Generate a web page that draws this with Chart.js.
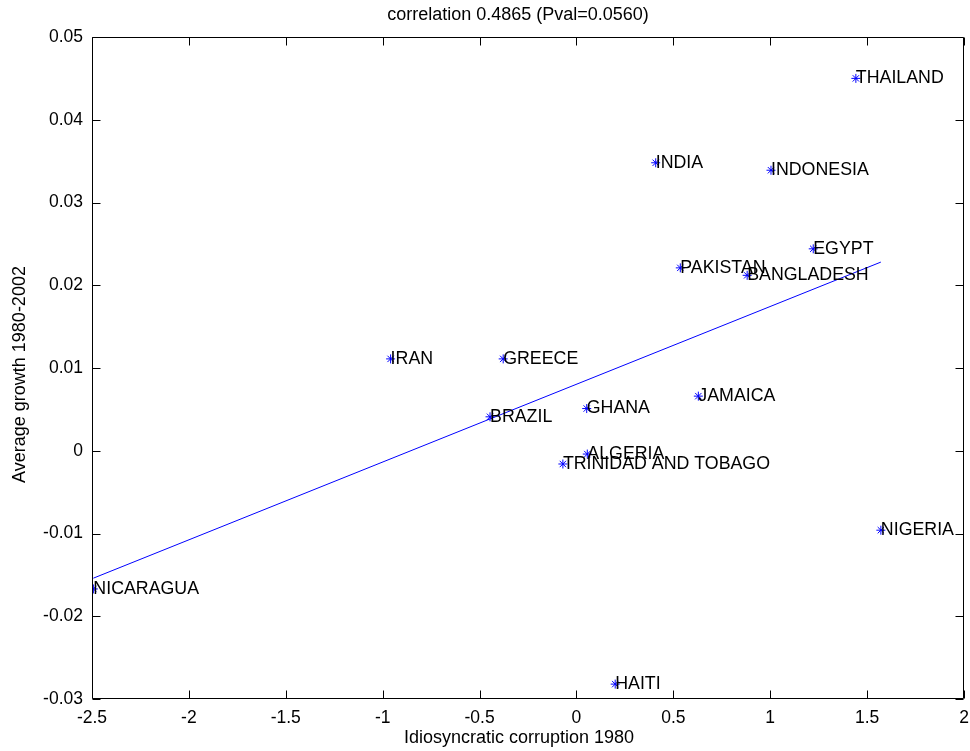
<!DOCTYPE html>
<html>
<head>
<meta charset="utf-8">
<script src="https://cdn.jsdelivr.net/npm/chart.js@4/dist/chart.umd.min.js"></script>
<style>
html,body{margin:0;padding:0;background:#fff;}
#wrap{width:970px;height:751px;position:relative;}
</style>
</head>
<body>
<div id="wrap"><canvas id="c" width="970" height="751"></canvas></div>
<script>
// ---- data ----
const countries = ['THAILAND','INDIA','INDONESIA','EGYPT','PAKISTAN','BANGLADESH','GREECE','IRAN','BRAZIL','GHANA','JAMAICA','ALGERIA','TRINIDAD AND TOBAGO','NIGERIA','HAITI','NICARAGUA'];
const corruption1980 = [1.442,0.409,1.004,1.222,0.536,0.881,-0.378,-0.959,-0.446,0.053,0.629,0.056,-0.070,1.571,0.200,-2.493];
const growth = [0.0450,0.0348,0.0339,0.0244,0.0221,0.0212,0.0111,0.0111,0.0041,0.0051,0.0066,-0.0004,-0.0016,-0.0096,-0.0282,-0.0167];
const fitX = [-2.493, 1.571];
const fitY = [-0.0154, 0.0228];
const xTickLabels = ['-2.5','-2','-1.5','-1','-0.5','0','0.5','1','1.5','2'];
const yTickLabels = ['-0.03','-0.02','-0.01','0','0.01','0.02','0.03','0.04','0.05'];
const titleText = 'correlation 0.4865 (Pval=0.0560)';
const xTitle = 'Idiosyncratic corruption 1980';
const yTitle = 'Average growth 1980-2002';

const FONT = '"Liberation Sans", Arial, Helvetica, sans-serif';

const points = corruption1980.map((x,i)=>({x:x, y:growth[i]}));
const fitLine = fitX.map((x,i)=>({x:x, y:fitY[i]}));

const framePlugin = {
  id:'frame',
  afterDraw(chart){
    const ctx = chart.ctx, a = chart.chartArea;
    const xs = chart.scales.x, ys = chart.scales.y;
    const L = Math.round(a.left)+0.5, R = Math.round(a.right)-0.5;
    const T = Math.round(a.top)+0.5, B = Math.round(a.bottom)-0.5;
    ctx.save();
    ctx.strokeStyle = '#000';
    ctx.lineWidth = 1;
    ctx.beginPath();
    ctx.rect(L, T, R-L, B-T);
    const tl = 8;
    xs.ticks.forEach(t=>{
      const px = Math.round(xs.getPixelForValue(t.value))+0.5;
      ctx.moveTo(px,B); ctx.lineTo(px,B-tl);
      ctx.moveTo(px,T); ctx.lineTo(px,T+tl);
    });
    ys.ticks.forEach(t=>{
      const py = Math.round(ys.getPixelForValue(t.value))+0.5;
      ctx.moveTo(L,py); ctx.lineTo(L+tl,py);
      ctx.moveTo(R,py); ctx.lineTo(R-tl,py);
    });
    ctx.stroke();

    // country labels
    const meta = chart.getDatasetMeta(0);
    ctx.fillStyle = '#000';
    ctx.font = '17.8px ' + FONT;
    ctx.textAlign = 'left';
    ctx.textBaseline = 'middle';
    meta.data.forEach((el,i)=>{
      ctx.fillText(countries[i], el.x, el.y);
    });

    // title and axis titles
    ctx.font = '18px ' + FONT;
    ctx.textAlign = 'center';
    ctx.textBaseline = 'middle';
    const cx = (a.left + a.right)/2 - 10;
    ctx.fillText(titleText, cx, 15.5);
    ctx.fillText(xTitle, cx + 1, 738);
    ctx.save();
    ctx.translate(20, (a.top + a.bottom)/2 + 6.5);
    ctx.rotate(-Math.PI/2);
    ctx.fillText(yTitle, 0, 0);
    ctx.restore();
    ctx.restore();
  }
};

new Chart(document.getElementById('c'), {
  type:'scatter',
  data:{
    datasets:[
      {
        label:'countries',
        data: points,
        pointStyle:'star',
        pointRadius:4.5,
        pointHoverRadius:4.5,
        borderColor:'#0000ff',
        backgroundColor:'#0000ff',
        borderWidth:1,
        showLine:false
      },
      {
        label:'fit',
        data: fitLine,
        showLine:true,
        borderColor:'#0000ff',
        borderWidth:1,
        pointRadius:0,
        fill:false
      }
    ]
  },
  options:{
    responsive:false,
    animation:false,
    devicePixelRatio:1,
    layout:{padding:{top:37,right:6,left:0,bottom:0}},
    plugins:{legend:{display:false}, tooltip:{enabled:false}, title:{display:false}},
    scales:{
      x:{
        type:'linear', min:-2.5, max:2,
        grid:{display:false, drawTicks:false},
        border:{display:false},
        ticks:{stepSize:0.5, padding:9, color:'#000', font:{family:FONT, size:17.5},
          callback:(v,i)=>xTickLabels[i], maxRotation:0, autoSkip:false},
        afterFit:(s)=>{ s.height = 52; s.paddingLeft = 0; s.paddingRight = 0; }
      },
      y:{
        type:'linear', min:-0.03, max:0.05,
        grid:{display:false, drawTicks:false},
        border:{display:false},
        ticks:{stepSize:0.01, padding:9, color:'#000', font:{family:FONT, size:17.5},
          callback:(v,i)=>yTickLabels[i], autoSkip:false},
        afterFit:(s)=>{ s.width = 92; s.paddingTop = 0; s.paddingBottom = 0; }
      }
    }
  },
  plugins:[framePlugin]
});
</script>
</body>
</html>
